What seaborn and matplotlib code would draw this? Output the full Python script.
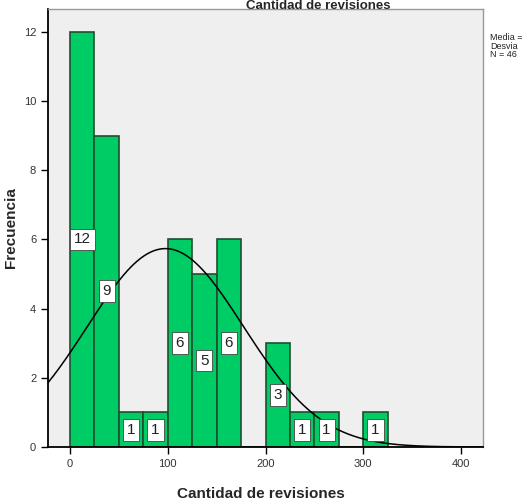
import numpy as np
import pandas as pd
import seaborn as sns
import matplotlib.pyplot as plt

# histogram of "Cantidad de revisiones" (bin width 25)
bin_left = [0, 25, 50, 75, 100, 125, 150, 200, 225, 250, 300]
counts = [12, 9, 1, 1, 6, 5, 6, 3, 1, 1, 1]
bin_width = 25
n_total = 46
media = 97.6
desviacion = 80.0
x_ticks = [0, 100, 200, 300, 400]
y_ticks = [0, 2, 4, 6, 8, 10, 12]


def main():
    sns.set_theme(style="white")
    plt.rcParams['font.family'] = ['Liberation Sans', 'DejaVu Sans']

    df = pd.DataFrame({"x": np.array(bin_left) + bin_width / 2, "n": counts})

    fig = plt.figure(figsize=(5.25, 5.03), dpi=100)
    ax = fig.add_axes([48 / 525, 56 / 503, 435 / 525, 438 / 503])
    ax.set_facecolor("#efefef")

    sns.histplot(data=df, x="x", weights="n", binwidth=bin_width,
                 binrange=(0, max(bin_left) + bin_width), ax=ax,
                 color="#00cc66", edgecolor="#1f4f2f", linewidth=1.2, alpha=1)

    # white count labels in the middle of each bar
    for left, c in zip(bin_left, counts):
        ax.text(left + bin_width / 2, c / 2, str(c), ha="center", va="center",
                fontsize=11, color="#222222",
                bbox=dict(boxstyle="square,pad=0.25", fc="white", ec="#444444", lw=0.6))

    # fitted normal curve
    xs = np.linspace(-22.5, 422.5, 400)
    ys = n_total * bin_width / (desviacion * np.sqrt(2 * np.pi)) * np.exp(-(xs - media) ** 2 / (2 * desviacion ** 2))
    sns.lineplot(x=xs, y=ys, ax=ax, color="black", linewidth=1.1)

    ax.set_xlim(-22.5, 422.5)
    ax.set_ylim(0, 12.66)
    ax.set_xticks(x_ticks)
    ax.set_yticks(y_ticks)
    ax.tick_params(axis="both", direction="out", length=5, width=1, colors="black",
                   labelsize=8, labelcolor="#333333", bottom=True, left=True)
    for s in ["left", "bottom"]:
        ax.spines[s].set_color("black")
        ax.spines[s].set_linewidth(1.3)
    for s in ["top", "right"]:
        ax.spines[s].set_color("#999999")
        ax.spines[s].set_linewidth(1.0)

    ax.set_xlabel("Cantidad de revisiones", fontsize=11, fontweight="bold")
    ax.set_ylabel("Frecuencia", fontsize=11, fontweight="bold")
    ax.xaxis.set_label_coords(0.49, -0.092)
    ax.yaxis.set_label_coords(-0.069, 0.5)

    fig.text(0.606, 1.0, "Cantidad de revisiones", ha="center", va="top",
             fontsize=9.5, fontweight="bold")
    fig.text(490 / 525, 1 - 33 / 503, "Media =\nDesvia\nN = 46", ha="left", va="top",
             fontsize=6.5, linespacing=0.95, color="#222222")

    fig.savefig("out.png", dpi=100, facecolor="white")


if __name__ == "__main__":
    main()
